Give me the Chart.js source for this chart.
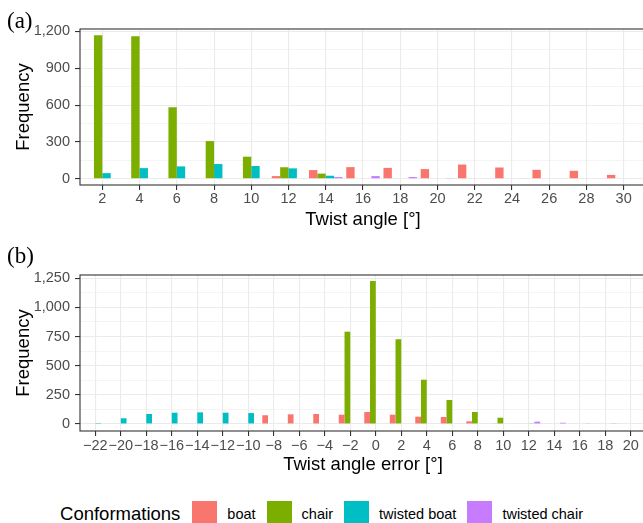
<!DOCTYPE html>
<html><head><meta charset="utf-8">
<script src="https://cdn.jsdelivr.net/npm/chart.js@4/dist/chart.umd.min.js"></script>
<style>
html,body{margin:0;padding:0;background:#fff;}
body{width:643px;height:523px;overflow:hidden;position:relative;font-family:"Liberation Sans",Arial,sans-serif;}
canvas{position:absolute;left:0;}
#ca{top:0;} #cb{top:240px;}
.plab{position:absolute;left:7px;font-family:"Liberation Serif","Times New Roman",serif;font-size:23px;line-height:1;color:#000;}
#legend{position:absolute;left:0;top:501px;width:643px;height:25px;display:flex;align-items:center;justify-content:center;white-space:nowrap;}
#legend .ttl{font-size:18.5px;color:#000;margin-right:12px;}
#legend .key{width:25px;height:25px;margin-right:10px;flex:none;}
#legend .lab{font-size:14.5px;color:#000;margin-right:11px;}
#legend .lab:last-child{margin-right:0;}
</style></head>
<body>
<canvas id="ca" width="646" height="240"></canvas>
<canvas id="cb" width="646" height="240"></canvas>
<div class="plab" style="top:9px">(a)</div>
<div class="plab" style="top:244px">(b)</div>
<div id="legend"></div>
<script>
// ---- data ----
const seriesNames = ['boat', 'chair', 'twisted boat', 'twisted chair'];
const seriesColors = ['#F8766D', '#7CAE00', '#00BFC4', '#C77CFF'];
const legendTitle = 'Conformations';

// (a) Twist angle
const angleBins = [2, 4, 6, 8, 10, 12, 14, 16, 18, 20, 22, 24, 26, 28, 30];
const angleBoat = [0, 0, 0, 0, 0, 22, 71, 95, 89, 79, 116, 92, 73, 65, 32];
const angleChair = [1168, 1160, 582, 307, 180, 94, 42, 0, 0, 0, 0, 0, 0, 0, 0];
const angleTwBoat = [46, 87, 101, 120, 104, 85, 25, 0, 0, 0, 0, 0, 0, 0, 0];
const angleTwChair = [0, 0, 0, 0, 0, 0, 14, 22, 14, 6, 0, 5, 0, 0, 0];
const angleYMajor = [0, 300, 600, 900, 1200];
const angleYMinor = [150, 450, 750, 1050];

// (b) Twist angle error
const errorBins = [-22, -20, -18, -16, -14, -12, -10, -8, -6, -4, -2, 0, 2, 4, 6, 8, 10, 12, 14, 16, 18, 20];
const errorBoat = [0, 0, 0, 0, 0, 0, 0, 75, 83, 86, 80, 103, 80, 63, 60, 23, 6, 0, 0, 0, 0, 0];
const errorChair = [0, 0, 0, 0, 0, 0, 0, 0, 0, 0, 792, 1227, 727, 380, 206, 103, 54, 0, 0, 0, 0, 0];
const errorTwBoat = [8, 49, 86, 97, 100, 97, 94, 0, 0, 0, 0, 0, 0, 0, 0, 0, 0, 6, 0, 0, 0, 0];
const errorTwChair = [0, 0, 0, 0, 0, 0, 0, 0, 0, 0, 0, 0, 0, 0, 0, 0, 0, 20, 11, 6, 3, 0];
const errorYMajor = [0, 250, 500, 750, 1000, 1250];
const errorYMinor = [125, 375, 625, 875, 1125];

// ---- drawing ----
const FONT = '"Liberation Sans", Arial, sans-serif';
const fmtNum = v => (v < 0 ? '\u2212' + Math.abs(v) : String(v));
const fmtY = v => v.toLocaleString('en-US');

const panelBorder = {
  id: 'panelBorder',
  afterDatasetsDraw(chart) {
    const { ctx, chartArea: a } = chart;
    ctx.save();
    ctx.strokeStyle = '#333333';
    ctx.lineWidth = 1.1;
    ctx.strokeRect(a.left, a.top, a.right - a.left, a.bottom - a.top);
    ctx.restore();
  }
};

function makeChart(id, bins, series, yMajor, yMinor, cfg) {
  const datasets = series.map((arr, i) => ({
    label: seriesNames[i],
    data: bins.map((b, j) => ({ x: b, y: arr[j] })),
    backgroundColor: seriesColors[i],
    borderWidth: 0,
    categoryPercentage: 0.9,
    barPercentage: 1.0
  }));
  const yAll = yMajor.concat(yMinor).sort((a, b) => a - b);
  return new Chart(document.getElementById(id), {
    type: 'bar',
    data: { datasets },
    options: {
      responsive: false,
      animation: false,
      devicePixelRatio: 1,
      layout: { padding: { top: cfg.padTop, left: 0, right: 0, bottom: 0 } },
      plugins: { legend: { display: false }, tooltip: { enabled: false } },
      scales: {
        x: {
          type: 'linear',
          min: cfg.xMin, max: cfg.xMax,
          offset: false,
          afterBuildTicks: s => { s.ticks = bins.map(v => ({ value: v })); },
          afterFit: s => { s.height = cfg.xAxisH; },
          grid: { color: '#EBEBEB', lineWidth: 1.1, tickColor: '#333333', tickWidth: 1.1, tickLength: 5, offset: false },
          border: { display: false },
          ticks: { autoSkip: false, maxRotation: 0, minRotation: 0, padding: cfg.xTickPad, color: '#4D4D4D',
                   font: { family: FONT, size: 14.5 }, callback: v => fmtNum(v) },
          title: { display: true, text: cfg.xTitle, color: '#000', font: { family: FONT, size: 18.5 },
                   padding: { top: 0, bottom: cfg.xTitlePad } }
        },
        y: {
          min: cfg.yMin, max: cfg.yMax,
          afterBuildTicks: s => { s.ticks = yAll.map(v => ({ value: v })); },
          afterFit: s => { s.width = 80; },
          grid: {
            color: '#EBEBEB',
            lineWidth: c => (c.tick && yMajor.includes(c.tick.value)) ? 1.1 : 0.55,
            tickColor: c => (c.tick && yMajor.includes(c.tick.value)) ? '#333333' : 'rgba(0,0,0,0)',
            tickWidth: 1.1,
            tickLength: 5
          },
          border: { display: false },
          ticks: { autoSkip: false, padding: 5, color: '#4D4D4D', font: { family: FONT, size: 14.5 },
                   callback: v => yMajor.includes(v) ? fmtY(v) : '' },
          title: { display: true, text: 'Frequency', color: '#000', font: { family: FONT, size: 18.5 },
                   padding: { top: 12.4, bottom: 0 } }
        }
      }
    },
    plugins: [panelBorder]
  });
}

makeChart('ca', angleBins, [angleBoat, angleChair, angleTwBoat, angleTwChair], angleYMajor, angleYMinor, {
  padTop: 29, xAxisH: 55, xMin: 0.8, xMax: 31.2, yMin: -50.4, yMax: 1218.7,
  xTickPad: 0, xTitlePad: 8.8, xTitle: 'Twist angle [°]'
});
makeChart('cb', errorBins, [errorBoat, errorChair, errorTwBoat, errorTwChair], errorYMajor, errorYMinor, {
  padTop: 35, xAxisH: 49, xMin: -23.2, xMax: 21.2, yMin: -60, yMax: 1278,
  xTickPad: 1, xTitlePad: 4.1, xTitle: 'Twist angle error [°]'
});

// legend
const lg = document.getElementById('legend');
const t = document.createElement('span'); t.className = 'ttl'; t.textContent = legendTitle; lg.appendChild(t);
seriesNames.forEach((n, i) => {
  const k = document.createElement('span'); k.className = 'key'; k.style.background = seriesColors[i]; lg.appendChild(k);
  const l = document.createElement('span'); l.className = 'lab'; l.textContent = n; lg.appendChild(l);
});
</script>
</body></html>
